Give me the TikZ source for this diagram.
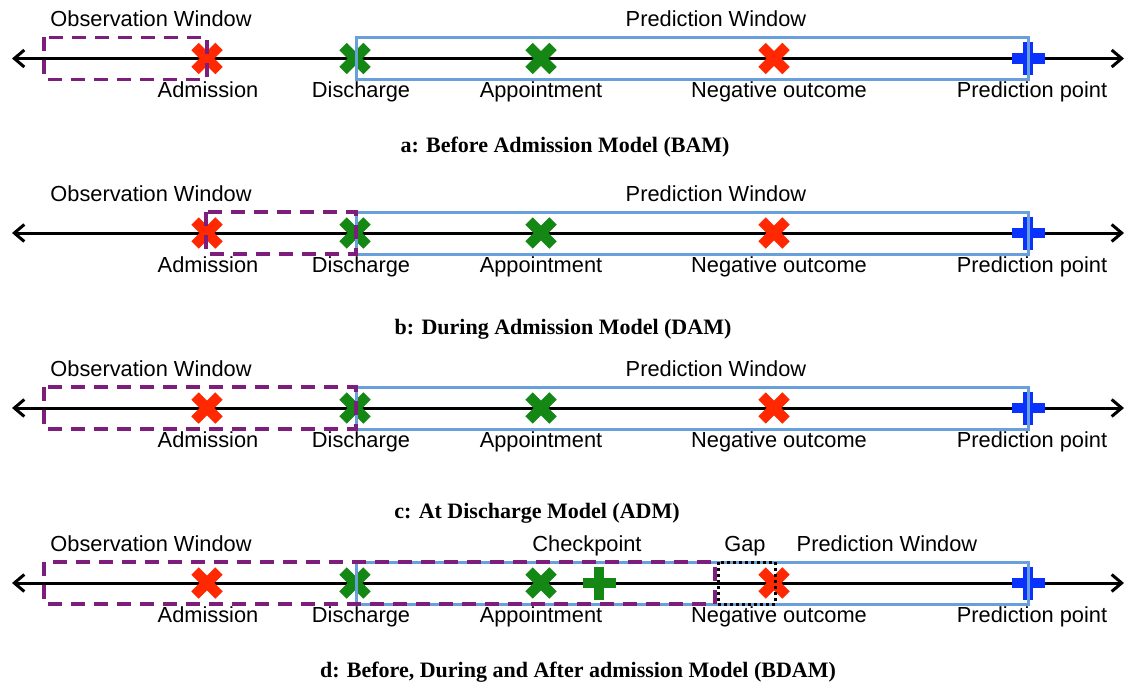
\documentclass[tikz,border=0pt]{standalone}
\usepackage{fontspec}
\setmainfont{Liberation Sans}
\newfontfamily\capfont{Liberation Serif}
\usetikzlibrary{arrows.meta,calc}
\definecolor{mred}{RGB}{255,40,0}
\definecolor{mgreen}{RGB}{20,135,20}
\definecolor{mblue}{RGB}{10,50,255}
\definecolor{winblue}{RGB}{105,160,220}
\definecolor{obspurple}{RGB}{125,30,125}
\tikzset{
  lbl/.style={font=\fontsize{21.8}{26}\selectfont, inner sep=0pt, anchor=base},
  captxt/.style={font=\capfont\bfseries\fontsize{22}{26}\selectfont, inner sep=0pt, anchor=base},
  timeaxis/.style={line width=3pt, {Straight Barb[length=10pt,width=17pt]}-{Straight Barb[length=10pt,width=17pt]}},
  predwin/.style={draw=winblue, line width=3pt},
  obswin/.style={draw=obspurple, line width=3.5pt, dash pattern=on 14pt off 9pt},
  gapwin/.style={draw=black, line width=3pt, dash pattern=on 3pt off 3pt},
  xspot/.style={minimum size=24pt, inner sep=0pt, outer sep=0pt},
  pspot/.style={minimum size=33pt, inner sep=0pt, outer sep=0pt},
  markarm/.style={line width=10.5pt, line cap=butt, draw=#1},
}
\newcommand\tlpanel[2]{%
  \coordinate (#1L) at (12,#2);
  \coordinate (#1R) at (1124,#2);
  \draw[timeaxis] (#1L) -- (#1R);
  \node[xspot] (#1adm) at (207,#2) {};
  \node[xspot] (#1dis) at (355,#2) {};
  \node[xspot] (#1app) at (541,#2) {};
  \node[xspot] (#1neg) at (774,#2) {};
  \node[pspot] (#1pp) at (1028,#2) {};
  \foreach \n/\c in {adm/mred,dis/mgreen,app/mgreen,neg/mred}{
    \draw[markarm=\c] (#1\n.north west) -- (#1\n.south east);
    \draw[markarm=\c] (#1\n.north east) -- (#1\n.south west);
  }
  \draw[markarm=mblue] (#1pp.north) -- (#1pp.south);
  \draw[markarm=mblue] (#1pp.west) -- (#1pp.east);
  \node[lbl] (#1admL) at (208,{#2+39}) {Admission};
  \node[lbl] (#1disL) at (361,{#2+39}) {Discharge};
  \node[lbl] (#1appL) at (541,{#2+39}) {Appointment};
  \node[lbl] (#1negL) at (779,{#2+39}) {Negative outcome};
  \node[lbl] (#1ppL) at (1032,{#2+39}) {Prediction point};
  \node[lbl] (#1obsT) at (151,{#2-32}) {Observation Window};
}
\begin{document}
\begin{tikzpicture}[x=1pt,y=-1pt]
\useasboundingbox (0,0) rectangle (1126,682);
% panel a
\tlpanel{a}{58.5}
\node[lbl] (apredT) at (716,26.5) {Prediction Window};
\draw[predwin] (356,37.5) rectangle (1028,79.5);
\draw[obswin] (44,37.5) rectangle (207,79.5);
\node[captxt] (acap) at (565,152) {a: Before Admission Model (BAM)};
% panel b
\tlpanel{b}{233}
\node[lbl] (bpredT) at (716,201) {Prediction Window};
\draw[predwin] (356,212) rectangle (1028,254);
\draw[obswin] (206,212) rectangle (356,254);
\node[captxt] (bcap) at (563,334) {b: During Admission Model (DAM)};
% panel c
\tlpanel{c}{408}
\node[lbl] (cpredT) at (716,376) {Prediction Window};
\draw[predwin] (356,387) rectangle (1028,429);
\draw[obswin] (44,387) rectangle (356,429);
\node[captxt] (ccap) at (537,518) {c: At Discharge Model (ADM)};
% panel d
\tlpanel{d}{583}
\node[pspot] (dchk) at (599,583) {};
\draw[markarm=mgreen] (dchk.north) -- (dchk.south);
\draw[markarm=mgreen] (dchk.west) -- (dchk.east);
\node[lbl] (dchkT) at (587,551) {Checkpoint};
\node[lbl] (dgapT) at (745,551) {Gap};
\node[lbl] (dpredT) at (887,551) {Prediction Window};
\draw[predwin] (356,562) rectangle (1028,604);
\draw[obswin] (44,562) rectangle (715,604);
\draw[gapwin] (718,562) rectangle (775,604);
\node[captxt] (dcap) at (578,677) {d: Before, During and After admission Model (BDAM)};
\end{tikzpicture}
\end{document}
